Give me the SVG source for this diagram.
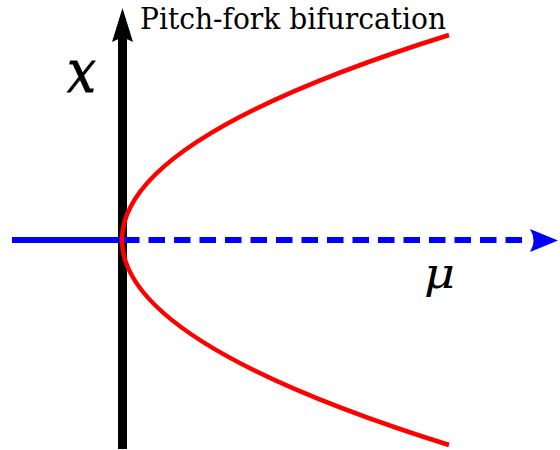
<svg xmlns="http://www.w3.org/2000/svg" width="560" height="450" viewBox="0 0 560 450">
<rect width="560" height="450" fill="#fff"/>
<g id="connectors">
  <g id="x-axis-vertical">
    <line x1="122.5" y1="449" x2="122.5" y2="30" stroke="#000" stroke-width="9"/>
    <path d="M122.5,8 L133,42 Q122.5,35 112,42 Z" fill="#000"/>
  </g>
  <g id="mu-axis">
    <line x1="12" y1="240" x2="120.5" y2="240" stroke="#0000ff" stroke-width="6"/>
    <line x1="123" y1="240" x2="524" y2="240" stroke="#0000ff" stroke-width="6" stroke-dasharray="16.5 9"/>
    <path d="M558,240.5 L530,229 Q537,240.5 530,252 Z" fill="#0000ff"/>
  </g>
  <g id="pitchfork-curve">
    <path d="M449,35 Q-205,240 449,445" fill="none" stroke="#ff0000" stroke-width="4.5"/>
  </g>
</g>
<g id="title">
  <text font-family="'DejaVu Serif', serif" x="140" y="29" font-size="30" fill="#000" textLength="306" lengthAdjust="spacingAndGlyphs">Pitch-fork bifurcation</text>
</g>
<g id="label-x">
  <text font-family="'DejaVu Serif', serif" font-style="italic" x="67" y="92" font-size="60" fill="#000" stroke="#000" stroke-width="0.8" textLength="29" lengthAdjust="spacingAndGlyphs">x</text>
</g>
<g id="label-mu">
  <text font-family="'DejaVu Serif', serif" font-style="italic" x="424" y="288" font-size="42" fill="#000" textLength="31" lengthAdjust="spacingAndGlyphs">μ</text>
</g>
</svg>
